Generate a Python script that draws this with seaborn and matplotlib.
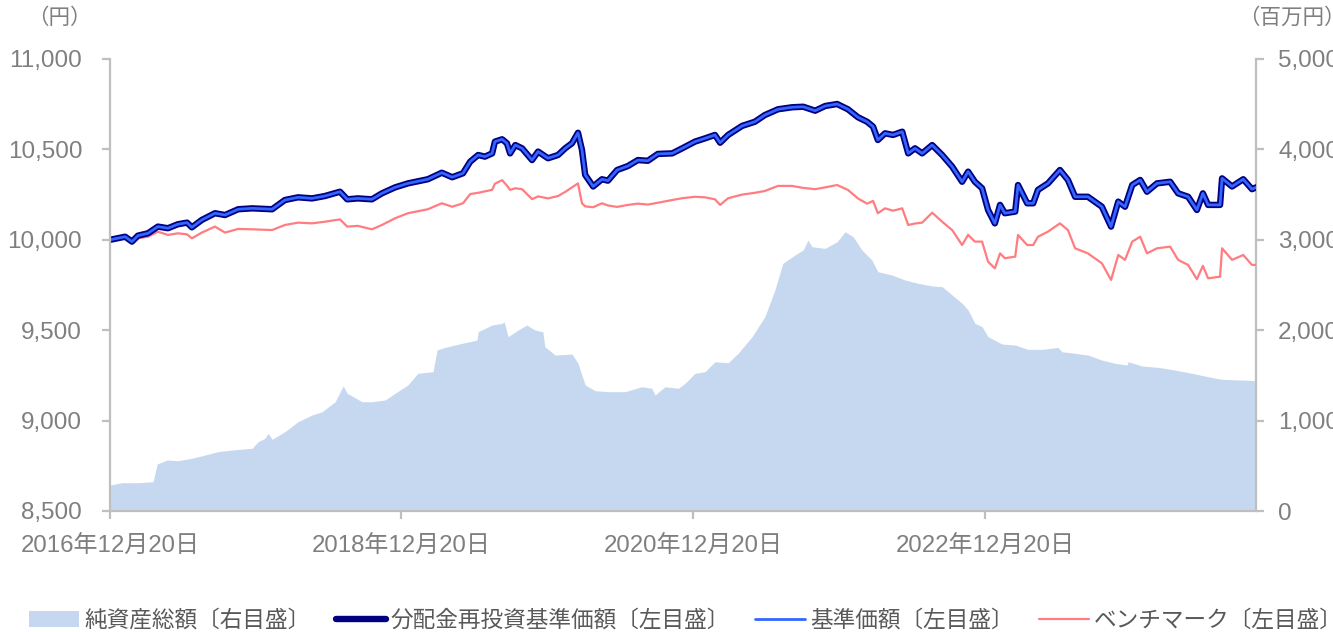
import matplotlib
matplotlib.use("Agg")
import matplotlib.pyplot as plt
import matplotlib.dates as mdates
from matplotlib.ticker import FuncFormatter, FixedLocator
import seaborn as sns
import pandas as pd

# ---------------- data ----------------
line_dates = [
    "2016-12-20", "2017-01-27", "2017-02-13", "2017-02-28", "2017-03-25", "2017-04-19", "2017-05-14",
    "2017-06-08", "2017-07-01", "2017-07-13", "2017-08-07", "2017-09-09", "2017-10-04", "2017-11-06",
    "2017-12-11", "2018-01-30", "2018-03-03", "2018-04-05", "2018-05-10", "2018-06-11", "2018-07-19",
    "2018-08-06", "2018-09-02", "2018-10-07", "2018-11-01", "2018-12-04", "2019-01-05", "2019-02-24",
    "2019-03-31", "2019-04-26", "2019-05-23", "2019-06-10", "2019-06-30", "2019-07-17", "2019-08-04",
    "2019-08-11", "2019-08-29", "2019-09-10", "2019-09-18", "2019-10-01", "2019-10-18", "2019-11-12",
    "2019-11-27", "2019-12-22", "2020-01-16", "2020-02-03", "2020-02-20", "2020-03-06", "2020-03-16",
    "2020-03-24", "2020-04-13", "2020-05-05", "2020-05-20", "2020-06-12", "2020-07-09", "2020-08-03",
    "2020-08-28", "2020-09-22", "2020-10-28", "2020-11-22", "2020-12-24", "2021-01-18", "2021-02-12",
    "2021-02-25", "2021-03-17", "2021-04-21", "2021-05-23", "2021-06-17", "2021-07-20", "2021-08-24",
    "2021-09-21", "2021-10-21", "2021-11-15", "2021-12-15", "2022-01-11", "2022-02-05", "2022-02-28",
    "2022-03-15", "2022-03-27", "2022-04-14", "2022-05-04", "2022-05-27", "2022-06-11", "2022-06-28",
    "2022-07-16", "2022-08-10", "2022-09-04", "2022-09-29", "2022-10-24", "2022-11-08", "2022-11-25",
    "2022-12-13", "2022-12-28", "2023-01-14", "2023-01-27", "2023-02-08", "2023-03-06", "2023-03-13",
    "2023-04-05", "2023-04-20", "2023-05-02", "2023-05-27", "2023-06-26", "2023-07-16", "2023-08-03",
    "2023-09-04", "2023-10-09", "2023-11-01", "2023-11-19", "2023-12-06", "2023-12-24", "2024-01-13",
    "2024-01-30", "2024-02-24", "2024-03-28", "2024-04-17", "2024-05-12", "2024-06-03", "2024-06-18",
    "2024-07-01", "2024-07-31", "2024-08-05", "2024-08-30", "2024-09-27", "2024-10-19", "2024-10-29",
]
nav = [
    10000, 10017, 9990, 10023, 10036, 10073, 10064, 10086, 10095, 10069, 10110, 10147, 10137, 10169,
    10174, 10169, 10220, 10235, 10229, 10242, 10266, 10224, 10229, 10224, 10257, 10290, 10312, 10335,
    10371, 10346, 10368, 10432, 10469, 10460, 10478, 10543, 10556, 10534, 10478, 10524, 10506, 10441,
    10488, 10451, 10469, 10506, 10534, 10592, 10497, 10359, 10295, 10335, 10327, 10386, 10408, 10441,
    10437, 10475, 10478, 10506, 10543, 10561, 10580, 10537, 10580, 10630, 10653, 10690, 10722, 10733,
    10736, 10714, 10740, 10751, 10722, 10678, 10653, 10626, 10552, 10589, 10580, 10598, 10478, 10506,
    10478, 10524, 10469, 10405, 10321, 10377, 10321, 10285, 10165, 10091, 10193, 10147, 10156, 10303,
    10202, 10202, 10276, 10312, 10386, 10331, 10238, 10238, 10183, 10073, 10211, 10183, 10303, 10331,
    10266, 10312, 10321, 10257, 10238, 10165, 10257, 10193, 10193, 10340, 10295, 10335, 10280, 10290,
]
# distributions reinvested: same path as the NAV in this fund
nav_reinvested = list(nav)
benchmark = [
    10000, 10008, 9981, 10008, 10017, 10045, 10027, 10036, 10030, 10008, 10040, 10073, 10040, 10060,
    10058, 10054, 10082, 10095, 10091, 10100, 10113, 10073, 10077, 10058, 10082, 10119, 10147, 10169,
    10202, 10183, 10202, 10253, 10260, 10268, 10276, 10310, 10330, 10300, 10276, 10285, 10280, 10225,
    10240, 10229, 10242, 10265, 10290, 10312, 10202, 10185, 10180, 10202, 10190, 10182, 10193, 10200,
    10195, 10205, 10220, 10230, 10238, 10235, 10224, 10193, 10230, 10250, 10260, 10270, 10298, 10298,
    10287, 10280, 10290, 10303, 10276, 10229, 10200, 10215, 10147, 10174, 10161, 10174, 10082, 10090,
    10095, 10150, 10100, 10054, 9971, 10027, 9990, 9990, 9879, 9842, 9925, 9898, 9907, 10027,
    9971, 9971, 10017, 10045, 10091, 10054, 9953, 9925, 9870, 9778, 9916, 9889, 9990, 10017,
    9925, 9953, 9962, 9889, 9861, 9782, 9856, 9787, 9796, 9953, 9889, 9916, 9861, 9861,
]

asset_dates = [
    "2016-12-20", "2017-01-19", "2017-02-28", "2017-04-07", "2017-04-17", "2017-05-12", "2017-06-08",
    "2017-07-13", "2017-08-15", "2017-09-16", "2017-10-22", "2017-12-11", "2017-12-26", "2018-01-12",
    "2018-01-20", "2018-01-30", "2018-03-03", "2018-04-05", "2018-05-10", "2018-06-04", "2018-07-07",
    "2018-07-27", "2018-08-06", "2018-09-12", "2018-10-07", "2018-11-09", "2018-12-04", "2019-01-05",
    "2019-01-30", "2019-03-09", "2019-03-19", "2019-04-08", "2019-05-21", "2019-06-27", "2019-06-30",
    "2019-08-04", "2019-08-29", "2019-09-03", "2019-09-13", "2019-10-08", "2019-10-30", "2019-11-19",
    "2019-12-09", "2019-12-14", "2020-01-09", "2020-02-20", "2020-03-06", "2020-03-24", "2020-04-18",
    "2020-05-20", "2020-07-02", "2020-08-13", "2020-09-07", "2020-09-15", "2020-10-10", "2020-11-12",
    "2020-11-29", "2020-12-24", "2021-01-18", "2021-02-12", "2021-03-17", "2021-04-11", "2021-05-16",
    "2021-06-17", "2021-07-12", "2021-08-01", "2021-08-31", "2021-09-21", "2021-10-03", "2021-10-13",
    "2021-11-15", "2021-12-15", "2022-01-04", "2022-01-24", "2022-02-15", "2022-03-12", "2022-03-27",
    "2022-05-02", "2022-06-03", "2022-07-06", "2022-08-10", "2022-09-04", "2022-09-29", "2022-10-24",
    "2022-11-08", "2022-11-25", "2022-12-13", "2022-12-28", "2023-02-01", "2023-03-06", "2023-04-07",
    "2023-05-12", "2023-06-21", "2023-07-01", "2023-08-03", "2023-09-04", "2023-10-09", "2023-11-11",
    "2023-12-11", "2023-12-14", "2024-01-18", "2024-02-27", "2024-04-09", "2024-05-22", "2024-07-01",
    "2024-08-05", "2024-09-24", "2024-10-29",
]
net_assets = [
    288, 313, 313, 324, 520, 564, 556, 583, 619, 656, 675, 694, 767, 804,
    859, 793, 877, 988, 1062, 1098, 1209, 1383, 1302, 1209, 1209, 1228, 1302, 1394,
    1523, 1541, 1781, 1810, 1855, 1891, 1983, 2057, 2076, 2094, 1928, 2002, 2057, 2002,
    1983, 1817, 1725, 1736, 1634, 1394, 1331, 1320, 1320, 1375, 1357, 1283, 1375, 1357,
    1412, 1523, 1541, 1651, 1640, 1744, 1928, 2149, 2444, 2739, 2831, 2887, 2997, 2923,
    2905, 2979, 3089, 3034, 2887, 2776, 2647, 2610, 2555, 2518, 2489, 2481, 2389, 2297,
    2223, 2076, 2039, 1928, 1847, 1836, 1788, 1788, 1810, 1762, 1744, 1725, 1670, 1634,
    1615, 1651, 1604, 1589, 1559, 1523, 1485, 1456, 1449, 1441,
]

x_tick_dates = ["2016-12-20", "2018-12-20", "2020-12-20", "2022-12-20"]
left_ticks = [8500, 9000, 9500, 10000, 10500, 11000]
right_ticks = [0, 1000, 2000, 3000, 4000, 5000]

labels = ["純資産総額〔右目盛〕", "分配金再投資基準価額〔左目盛〕", "基準価額〔左目盛〕", "ベンチマーク〔左目盛〕"]

# ---------------- styling ----------------
sns.set_theme(style="white")
plt.rcParams["font.family"] = ["Liberation Sans", "Noto Sans CJK JP", "DejaVu Sans"]

GRAY_TXT = "#7f7f7f"
GRAY_AX = "#bfbfbf"
C_AREA = "#c6d8ef"
C_NAVY = "#000080"
C_BLUE = "#3366ff"
C_PINK = "#ff7c80"

lines_df = pd.DataFrame({
    "date": pd.to_datetime(line_dates),
    "nav": nav,
    "nav_reinv": nav_reinvested,
    "bench": benchmark,
})
asset_df = pd.DataFrame({"date": pd.to_datetime(asset_dates), "assets": net_assets})

fig = plt.figure(figsize=(13.33, 6.32), dpi=100)
ax = fig.add_axes([110 / 1333, 1 - 511 / 632, (1256 - 110) / 1333, (511 - 59) / 632])
ax2 = ax.twinx()

# area (right axis)
area = ax2.fill_between(asset_df["date"], asset_df["assets"], 0, color=C_AREA, linewidth=0,
                        label=labels[0])

# lines (left axis)
sns.lineplot(data=lines_df, x="date", y="bench", ax=ax, color=C_PINK, linewidth=1.6, label=labels[3])
sns.lineplot(data=lines_df, x="date", y="nav_reinv", ax=ax, color=C_NAVY, linewidth=4.6, label=labels[1])
sns.lineplot(data=lines_df, x="date", y="nav", ax=ax, color=C_BLUE, linewidth=2.0, label=labels[2])

ax.set_zorder(ax2.get_zorder() + 1)
ax.patch.set_visible(False)

ax.set_ylim(left_ticks[0], left_ticks[-1])
ax2.set_ylim(right_ticks[0], right_ticks[-1])
ax.set_xlim(pd.Timestamp(line_dates[0]), pd.Timestamp(line_dates[-1]))

ax.yaxis.set_major_locator(FixedLocator(left_ticks))
ax2.yaxis.set_major_locator(FixedLocator(right_ticks))
thousands = FuncFormatter(lambda v, p: f"{int(v):,}")
ax.yaxis.set_major_formatter(thousands)
ax2.yaxis.set_major_formatter(thousands)

ax.xaxis.set_major_locator(FixedLocator([mdates.date2num(pd.Timestamp(d)) for d in x_tick_dates]))
ax.xaxis.set_major_formatter(FuncFormatter(
    lambda v, p: (lambda d: f"{d.year}年{d.month}月{d.day}日")(mdates.num2date(v))))

ax.set_xlabel("")
ax.set_ylabel("")
ax2.set_ylabel("")
if ax.get_legend():
    ax.get_legend().remove()

for a in (ax, ax2):
    for s in a.spines.values():
        s.set_visible(False)
    a.grid(False)
ax.spines["left"].set_visible(True)
ax.spines["bottom"].set_visible(True)
ax2.spines["right"].set_visible(True)
for s in (ax.spines["left"], ax.spines["bottom"], ax2.spines["right"]):
    s.set_color(GRAY_AX)
    s.set_linewidth(1.6)

ax.tick_params(axis="y", direction="out", length=6, width=1.6, color=GRAY_AX, pad=14,
               labelsize=17.5, labelcolor=GRAY_TXT, left=True)
ax2.tick_params(axis="y", direction="out", length=6, width=1.6, color=GRAY_AX, pad=10,
                labelsize=17.5, labelcolor=GRAY_TXT, right=True)
ax.tick_params(axis="x", direction="out", length=6, width=1.6, color=GRAY_AX, pad=11,
               labelsize=17.3, labelcolor=GRAY_TXT, bottom=True)

fig.text(27 / 1333, 1 - 18 / 632, "（円）", color=GRAY_TXT, fontsize=15.5, ha="left", va="center")
fig.text(1238 / 1333, 1 - 18 / 632, "（百万円）", color=GRAY_TXT, fontsize=15.5, ha="left", va="center")

# legend
h = {l.get_label(): l for l in ax.get_lines()}
handles = [area, h[labels[1]], h[labels[2]], h[labels[3]]]
leg = fig.legend(handles, labels, loc="center", bbox_to_anchor=(686 / 1333, 1 - 620 / 632), ncol=4,
                 frameon=False, fontsize=16.3, handlelength=2.2, handletextpad=0.22,
                 columnspacing=1.12, labelcolor="#595959", borderaxespad=0, borderpad=0)

fig.savefig("out.png", dpi=100)
